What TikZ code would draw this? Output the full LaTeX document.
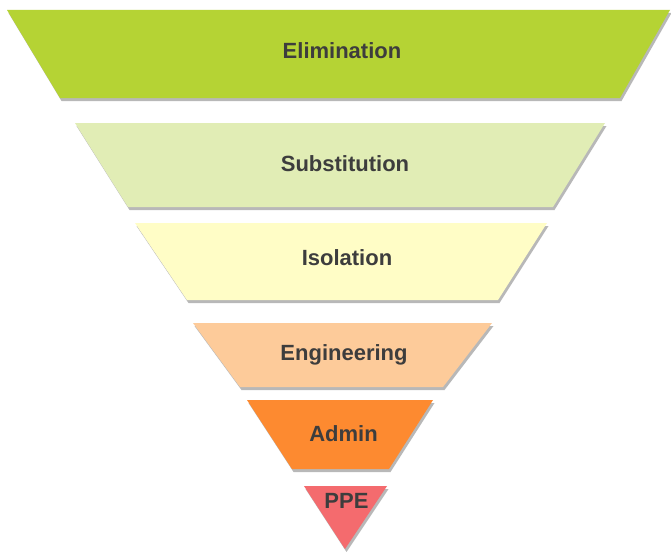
\documentclass[tikz,border=0pt]{standalone}
\usepackage{fontspec}
\setmainfont{Liberation Sans}
\usetikzlibrary{shadows}
\definecolor{cElim}{HTML}{B5D334}
\definecolor{cSub}{HTML}{E1EDB5}
\definecolor{cIso}{HTML}{FFFDC6}
\definecolor{cEng}{HTML}{FDCB9A}
\definecolor{cAdm}{HTML}{FD8A30}
\definecolor{cPPE}{HTML}{F46B6E}
\definecolor{cTxt}{HTML}{3D3D3D}
\tikzset{
  layer/.style={draw=none, drop shadow={shadow xshift=1.5pt, shadow yshift=-3pt, fill=black!55, opacity=0.5}},
  lbl/.style={anchor=base, text=cTxt, font=\fontsize{22}{24}\selectfont\bfseries, inner sep=0pt}
}
\begin{document}
\begin{tikzpicture}[x=1pt,y=-1pt]
\useasboundingbox[fill=white] (0,0) rectangle (671,551);
% Elimination
\fill[layer, fill=cElim] (7,10) -- (670,10) -- (620,98) -- (60,98) -- cycle;
% Substitution
\fill[layer, fill=cSub] (75,123) -- (605,123) -- (553,207) -- (128,207) -- cycle;
% Isolation
\fill[layer, fill=cIso] (135,223) -- (547,223) -- (498,300) -- (187,300) -- cycle;
% Engineering
\fill[layer, fill=cEng] (193,323) -- (492,323) -- (443,387) -- (240,387) -- cycle;
% Admin
\fill[layer, fill=cAdm] (247,400) -- (433,400) -- (389,469) -- (292,469) -- cycle;
% PPE
\fill[layer, fill=cPPE] (304,486) -- (387,486) -- (345,549) -- cycle;

\node[lbl] (elim) at (342,59) {Elimination};
\node[lbl] (sub) at (345,171) {Substitution};
\node[lbl] (iso) at (347,265) {Isolation};
\node[lbl] (eng) at (344,360) {Engineering};
\node[lbl] (adm) at (343.5,441) {Admin};
\node[lbl] (ppe) at (346.5,508) {PPE};
\end{tikzpicture}
\end{document}
